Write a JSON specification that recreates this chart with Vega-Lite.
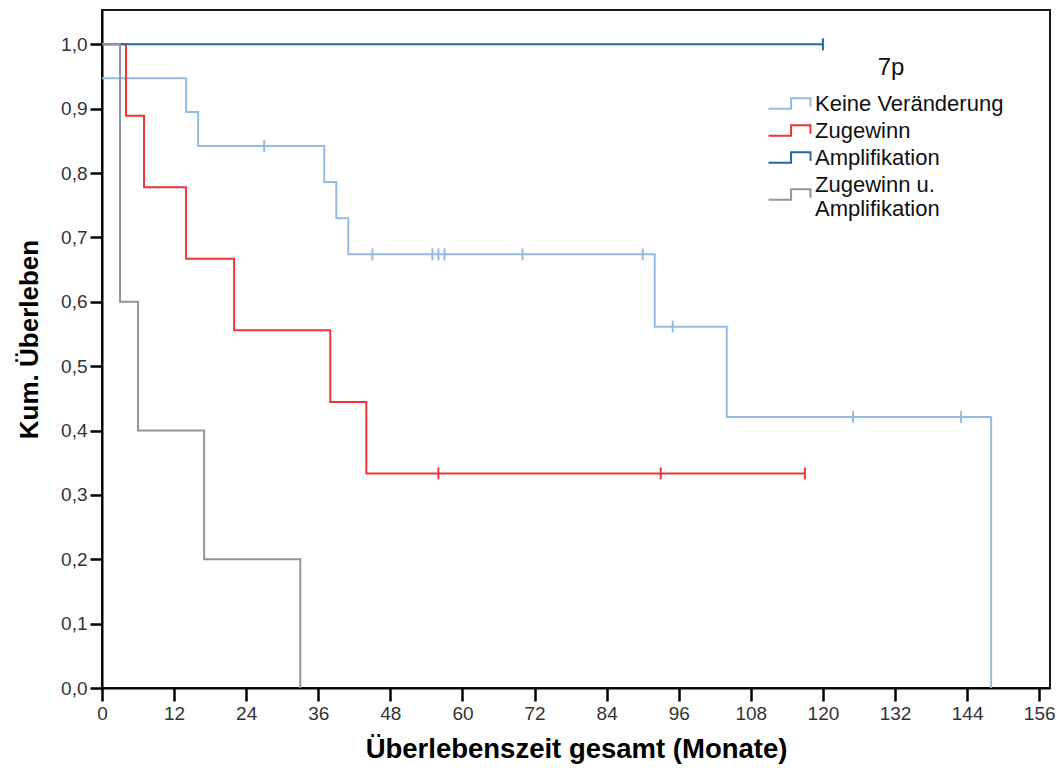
{
  "$schema": "https://vega.github.io/schema/vega-lite/v6.json",
  "width": 948,
  "height": 678,
  "autosize": {"type": "none"},
  "padding": {"left": 102, "top": 10, "right": 7, "bottom": 83},
  "background": "white",
  "config": {
    "font": "Liberation Sans",
    "view": {"stroke": "#1a1a1a", "strokeWidth": 2},
    "axis": {
      "grid": false,
      "domainColor": "#000000",
      "domainWidth": 2,
      "tickColor": "#000000",
      "tickWidth": 2.5,
      "labelFont": "Liberation Sans",
      "labelFontSize": 19,
      "labelColor": "#333333",
      "titleFont": "Liberation Sans",
      "titleFontWeight": "bold",
      "titleColor": "#000000"
    }
  },
  "datasets": {
    "kurven": [
      {"gruppe": "Keine Veränderung", "monat": 0, "ueberleben": 0.9474},
      {"gruppe": "Keine Veränderung", "monat": 14, "ueberleben": 0.8947},
      {"gruppe": "Keine Veränderung", "monat": 16, "ueberleben": 0.8421},
      {"gruppe": "Keine Veränderung", "monat": 37, "ueberleben": 0.786},
      {"gruppe": "Keine Veränderung", "monat": 39, "ueberleben": 0.7298},
      {"gruppe": "Keine Veränderung", "monat": 41, "ueberleben": 0.6737},
      {"gruppe": "Keine Veränderung", "monat": 92, "ueberleben": 0.5614},
      {"gruppe": "Keine Veränderung", "monat": 104, "ueberleben": 0.4211},
      {"gruppe": "Keine Veränderung", "monat": 148, "ueberleben": 0},
      {"gruppe": "Zugewinn", "monat": 0, "ueberleben": 1},
      {"gruppe": "Zugewinn", "monat": 4, "ueberleben": 0.8889},
      {"gruppe": "Zugewinn", "monat": 7, "ueberleben": 0.7778},
      {"gruppe": "Zugewinn", "monat": 14, "ueberleben": 0.6667},
      {"gruppe": "Zugewinn", "monat": 22, "ueberleben": 0.5556},
      {"gruppe": "Zugewinn", "monat": 38, "ueberleben": 0.4444},
      {"gruppe": "Zugewinn", "monat": 44, "ueberleben": 0.3333},
      {"gruppe": "Zugewinn", "monat": 117, "ueberleben": 0.3333},
      {"gruppe": "Amplifikation", "monat": 0, "ueberleben": 1},
      {"gruppe": "Amplifikation", "monat": 120, "ueberleben": 1},
      {"gruppe": "Zugewinn u. Amplifikation", "monat": 0, "ueberleben": 1},
      {"gruppe": "Zugewinn u. Amplifikation", "monat": 3, "ueberleben": 0.6},
      {"gruppe": "Zugewinn u. Amplifikation", "monat": 6, "ueberleben": 0.4},
      {"gruppe": "Zugewinn u. Amplifikation", "monat": 17, "ueberleben": 0.2},
      {"gruppe": "Zugewinn u. Amplifikation", "monat": 33, "ueberleben": 0}
    ],
    "zensiert": [
      {"gruppe": "Keine Veränderung", "monat": 27, "ueberleben": 0.8421},
      {"gruppe": "Keine Veränderung", "monat": 45, "ueberleben": 0.6737},
      {"gruppe": "Keine Veränderung", "monat": 55, "ueberleben": 0.6737},
      {"gruppe": "Keine Veränderung", "monat": 56, "ueberleben": 0.6737},
      {"gruppe": "Keine Veränderung", "monat": 57, "ueberleben": 0.6737},
      {"gruppe": "Keine Veränderung", "monat": 70, "ueberleben": 0.6737},
      {"gruppe": "Keine Veränderung", "monat": 90, "ueberleben": 0.6737},
      {"gruppe": "Keine Veränderung", "monat": 95, "ueberleben": 0.5614},
      {"gruppe": "Keine Veränderung", "monat": 125, "ueberleben": 0.4211},
      {"gruppe": "Keine Veränderung", "monat": 143, "ueberleben": 0.4211},
      {"gruppe": "Zugewinn", "monat": 56, "ueberleben": 0.3333},
      {"gruppe": "Zugewinn", "monat": 93, "ueberleben": 0.3333},
      {"gruppe": "Zugewinn", "monat": 117, "ueberleben": 0.3333},
      {"gruppe": "Amplifikation", "monat": 120, "ueberleben": 1}
    ]
  },
  "encoding": {
    "x": {
      "field": "monat",
      "type": "quantitative",
      "scale": {"domain": [0, 157.8], "nice": false, "zero": false},
      "axis": {
        "values": [0, 12, 24, 36, 48, 60, 72, 84, 96, 108, 120, 132, 144, 156],
        "title": "Überlebenszeit gesamt (Monate)",
        "titleFontSize": 27.5,
        "tickSize": 13,
        "labelPadding": 3,
        "labelFlush": false,
        "titleBaseline": "middle",
        "titleY": 61
      }
    },
    "y": {
      "field": "ueberleben",
      "type": "quantitative",
      "scale": {"domain": [0, 1.0533], "nice": false},
      "axis": {
        "values": [0, 0.1, 0.2, 0.3, 0.4, 0.5, 0.6, 0.7, 0.8, 0.9, 1],
        "labelExpr": "replace(format(datum.value, '.1f'), '.', ',')",
        "tickSize": 12,
        "labelPadding": 3,
        "title": "Kum. Überleben",
        "titleFontSize": 26,
        "titleAngle": 270,
        "titleAlign": "center",
        "titleBaseline": "middle",
        "titleX": -73,
        "titleY": 329
      }
    },
    "color": {
      "field": "gruppe",
      "type": "nominal",
      "scale": {
        "domain": ["Keine Veränderung", "Zugewinn", "Amplifikation", "Zugewinn u. Amplifikation"],
        "range": ["#93BBE3", "#EE3535", "#1F6B9B", "#8C989F"]
      },
      "legend": {
        "title": "7p",
        "orient": "none",
        "legendX": 676,
        "legendY": 46,
        "titleFontSize": 24,
        "titleFontWeight": "normal",
        "titleAnchor": "middle",
        "titleColor": "#111111",
        "titlePadding": 12,
        "labelFontSize": 22,
        "labelColor": "#111111",
        "labelOffset": 14,
        "labelLimit": 400,
        "symbolType": "M-2,0.5L0.15,0.5L0.15,-0.5L2,-0.5L2,0.3",
        "symbolSize": 441,
        "symbolStrokeWidth": 2,
        "symbolFillColor": "transparent",
        "rowPadding": 4,
        "labelExpr": "datum.label == 'Zugewinn u. Amplifikation' ? ['Zugewinn u.', 'Amplifikation'] : datum.label",
        "encode": {
          "symbols": {
            "update": {
              "shape": {"signal": "datum.value == 'Zugewinn u. Amplifikation' ? 'M-2,1.45L0.15,1.45L0.15,0.45L2,0.45L2,1.25' : 'M-2,0.5L0.15,0.5L0.15,-0.5L2,-0.5L2,0.3'"}
            }
          }
        }
      }
    }
  },
  "layer": [
    {
      "data": {"name": "kurven"},
      "mark": {"type": "line", "interpolate": "step-after", "strokeWidth": 2}
    },
    {
      "data": {"name": "zensiert"},
      "mark": {"type": "rule", "strokeWidth": 2, "yOffset": -6, "y2Offset": 6},
      "encoding": {"y2": {"field": "ueberleben"}}
    }
  ]
}
